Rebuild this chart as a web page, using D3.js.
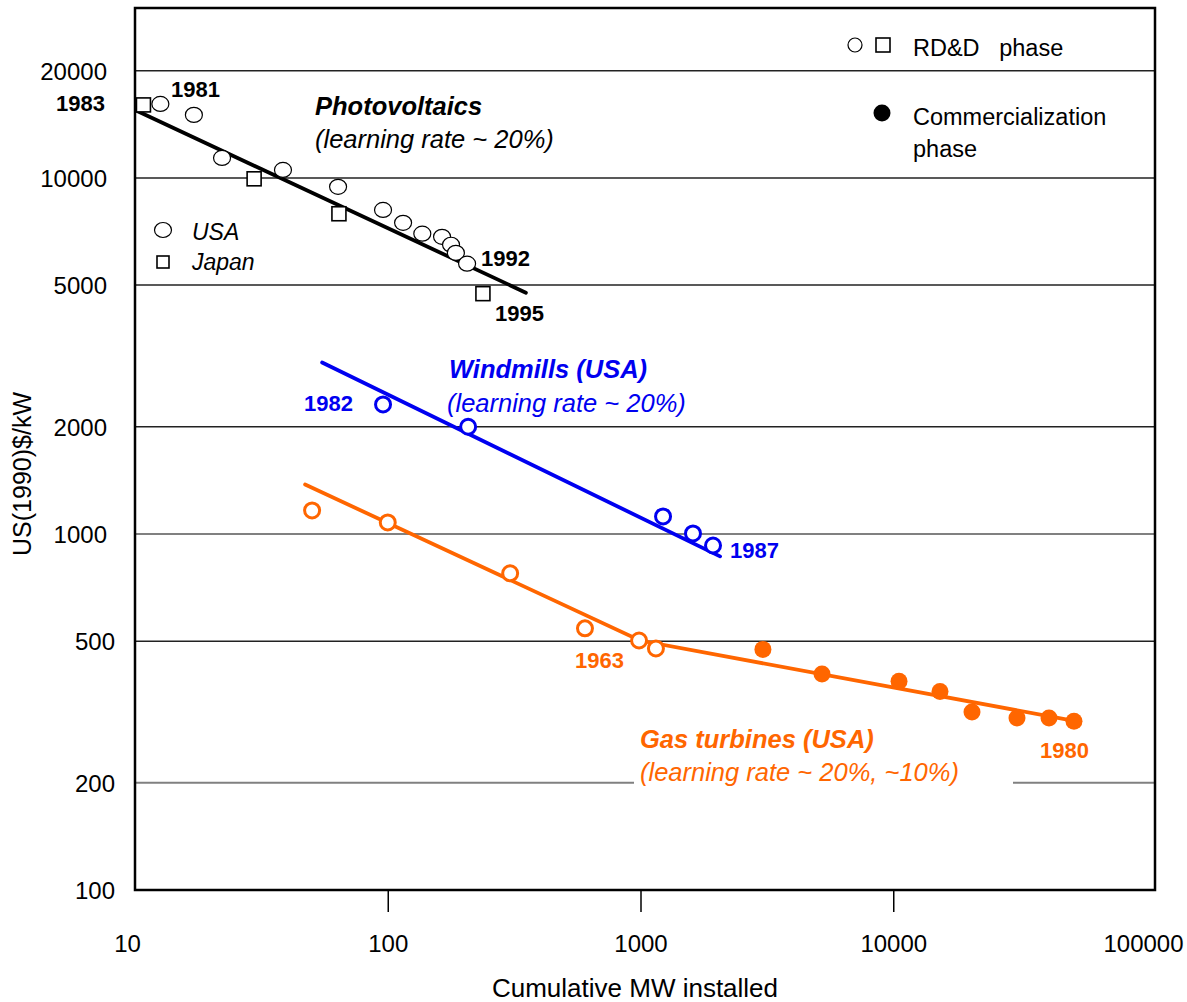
<!DOCTYPE html>
<html>
<head>
<meta charset="utf-8">
<script src="https://cdn.jsdelivr.net/npm/d3@7"></script>
<style>
  body { margin: 0; background: #fff; }
  svg { display: block; font-family: "Liberation Sans", Arial, sans-serif; }
</style>
</head>
<body>
<div id="chart"></div>
<script>
// cumulative MW installed -> US(1990)$/kW
var pvUSA = [
  [12.6, 16130], [17.1, 15030], [22.1, 11380], [38.5, 10530], [63.6, 9440],
  [95.8, 8130], [115, 7480], [137, 6970], [164, 6830], [178, 6490],
  [186, 6160], [206, 5740]
];
var pvJapan = [[10.8, 16030], [29.6, 9940], [64.1, 7930], [238, 4730]];
var pvFit = [[10.2, 15410], [352, 4760]];

var windUSA = [[95.8, 2310], [208, 2000], [1228, 1120], [1613, 1003], [1936, 928]];
var windFit = [[55, 3030], [2064, 865]];

var gasRDD = [[50.2, 1164], [100, 1077], [305, 775], [603, 543], [987, 502], [1151, 477]];
var gasCommercial = [
  [3050, 474], [5225, 404], [10540, 386], [15310, 361], [20490, 316],
  [30870, 304], [41330, 304], [51890, 298]
];
var gasFit = [[47.1, 1377], [995, 502], [50050, 300]];

var xTicks = [10, 100, 1000, 10000, 100000];
var yTicks = [100, 200, 500, 1000, 2000, 5000, 10000, 20000];

var width = 1187, height = 1002;
var orange = "#ff6600", blue = "#0000f0";

var svg = d3.select("#chart").append("svg")
    .attr("width", width)
    .attr("height", height);

var x = d3.scaleLog().domain([10, 100000]).range([135, 1146]);
var y = d3.scaleLog().domain([100, 30000]).range([890, 8]);
var plotRight = 1155;

// gridlines
svg.append("g").selectAll("line")
    .data(yTicks.filter(d => d > 100))
    .join("line")
    .attr("x1", 135).attr("x2", plotRight)
    .attr("y1", d => y(d)).attr("y2", d => y(d))
    .style("stroke", d => (d === 1000 || d === 200) ? "#808080" : "#222")
    .style("stroke-width", d => (d === 1000 || d === 200) ? 2 : 1.5);

// y axis labels
var yAxis = svg.append("g")
    .attr("transform", "translate(135,0)")
    .call(d3.axisLeft(y).tickValues(yTicks).tickSize(0).tickFormat(d3.format("d")));
yAxis.select(".domain").remove();
yAxis.selectAll("text")
    .attr("x", d => d < 1000 ? -20 : -28)
    .attr("dy", "0.35em")
    .style("font-size", "24px")
    .style("font-family", "Liberation Sans, Arial, sans-serif")
    .style("fill", "#000");

// x axis
var xAxis = svg.append("g")
    .attr("transform", "translate(0,890)")
    .call(d3.axisBottom(x).tickValues(xTicks).tickSize(22).tickFormat(d3.format("d")));
xAxis.select(".domain").remove();
xAxis.selectAll(".tick line")
    .style("stroke", "#000")
    .style("stroke-width", 1.5)
    .style("display", d => (d === 10 || d === 100000) ? "none" : null);
xAxis.selectAll("text")
    .attr("y", 62)
    .attr("dy", 0)
    .attr("dx", d => d === 10 ? -8 : (d === 100000 ? -3 : 0))
    .style("font-size", "24px")
    .style("font-family", "Liberation Sans, Arial, sans-serif")
    .style("fill", "#000");

// frame
svg.append("rect")
    .attr("x", 135).attr("y", 8)
    .attr("width", plotRight - 135).attr("height", 890 - 8)
    .style("fill", "none")
    .style("stroke", "#000")
    .style("stroke-width", 2.5);

// axis titles
svg.append("text")
    .attr("x", 635).attr("y", 997)
    .attr("text-anchor", "middle")
    .style("font-size", "26px")
    .text("Cumulative MW installed");

svg.append("text")
    .attr("transform", "translate(31,474) rotate(-90)")
    .attr("text-anchor", "middle")
    .style("font-size", "25px")
    .text("US(1990)$/kW");

// white patch behind gas turbine caption (breaks the 200 gridline)
svg.append("rect")
    .attr("x", 634).attr("y", 760)
    .attr("width", 379).attr("height", 30)
    .style("fill", "#fff");

var line = d3.line().x(d => x(d[0])).y(d => y(d[1]));

function fitLine(data, color) {
  svg.append("path")
      .datum(data)
      .attr("d", line)
      .style("fill", "none")
      .style("stroke", color)
      .style("stroke-width", 3.8)
      .style("stroke-linecap", "round");
}

fitLine(pvFit, "#000");
fitLine(windFit, blue);
fitLine(gasFit, orange);

// photovoltaics markers
svg.append("g").selectAll("ellipse")
    .data(pvUSA)
    .join("ellipse")
    .attr("cx", d => x(d[0])).attr("cy", d => y(d[1]))
    .attr("rx", 8.5).attr("ry", 7.5)
    .style("fill", "#fff").style("stroke", "#000").style("stroke-width", 1.2);

svg.append("g").selectAll("rect")
    .data(pvJapan)
    .join("rect")
    .attr("x", d => x(d[0]) - 7).attr("y", d => y(d[1]) - 7)
    .attr("width", 14).attr("height", 14)
    .style("fill", "#fff").style("stroke", "#000").style("stroke-width", 1.6);

// windmills markers
svg.append("g").selectAll("circle")
    .data(windUSA)
    .join("circle")
    .attr("cx", d => x(d[0])).attr("cy", d => y(d[1]))
    .attr("r", 7.5)
    .style("fill", "#fff").style("stroke", blue).style("stroke-width", 3);

// gas turbines markers
svg.append("g").selectAll("circle")
    .data(gasRDD)
    .join("circle")
    .attr("cx", d => x(d[0])).attr("cy", d => y(d[1]))
    .attr("r", 7.5)
    .style("fill", "#fff").style("stroke", orange).style("stroke-width", 3);

svg.append("g").selectAll("circle")
    .data(gasCommercial)
    .join("circle")
    .attr("cx", d => x(d[0])).attr("cy", d => y(d[1]))
    .attr("r", 8.5)
    .style("fill", orange);

// annotations
function label(px, py, txt, opts) {
  opts = opts || {};
  svg.append("text")
      .attr("x", px).attr("y", py)
      .attr("text-anchor", opts.anchor || "start")
      .style("font-size", (opts.size || 22) + "px")
      .style("font-weight", opts.bold ? "bold" : "normal")
      .style("font-style", opts.italic ? "italic" : "normal")
      .style("fill", opts.color || "#000")
      .text(txt);
}

label(171, 97, "1981", {bold: true});
label(105, 111, "1983", {bold: true, anchor: "end"});
label(481, 266, "1992", {bold: true});
label(495, 321, "1995", {bold: true});
label(315, 115, "Photovoltaics", {bold: true, italic: true, size: 25.5});
label(315, 148, "(learning rate ~ 20%)", {italic: true, size: 25.5});

label(192, 240, "USA", {italic: true, size: 23});
label(192, 270, "Japan", {italic: true, size: 23});
svg.append("ellipse").attr("cx", 163).attr("cy", 230).attr("rx", 8.5).attr("ry", 7.5)
    .style("fill", "#fff").style("stroke", "#000").style("stroke-width", 1.2);
svg.append("rect").attr("x", 157).attr("y", 256).attr("width", 12).attr("height", 12)
    .style("fill", "#fff").style("stroke", "#000").style("stroke-width", 1.6);

label(353, 411, "1982", {bold: true, anchor: "end", color: blue});
label(730, 558, "1987", {bold: true, color: blue});
label(449, 378, "Windmills (USA)", {bold: true, italic: true, size: 25.5, color: blue});
label(447, 412, "(learning rate ~ 20%)", {italic: true, size: 25.5, color: blue});

label(575, 668, "1963", {bold: true, color: orange});
label(1040, 758, "1980", {bold: true, color: orange});
label(640, 748, "Gas turbines (USA)", {bold: true, italic: true, size: 25.5, color: orange});
label(640, 781, "(learning rate ~ 20%, ~10%)", {italic: true, size: 25.5, color: orange});

// phase legend
svg.append("circle").attr("cx", 855).attr("cy", 45).attr("r", 7)
    .style("fill", "#fff").style("stroke", "#000").style("stroke-width", 1.2);
svg.append("rect").attr("x", 876).attr("y", 38).attr("width", 14).attr("height", 14)
    .style("fill", "#fff").style("stroke", "#000").style("stroke-width", 1.6);
svg.append("circle").attr("cx", 882).attr("cy", 113).attr("r", 8.5)
    .style("fill", "#000");
label(913, 56, "RD&D\u00a0\u00a0 phase", {size: 23.5});
label(913, 125, "Commercialization", {size: 23.5});
label(913, 157, "phase", {size: 23.5});
</script>
</body>
</html>
